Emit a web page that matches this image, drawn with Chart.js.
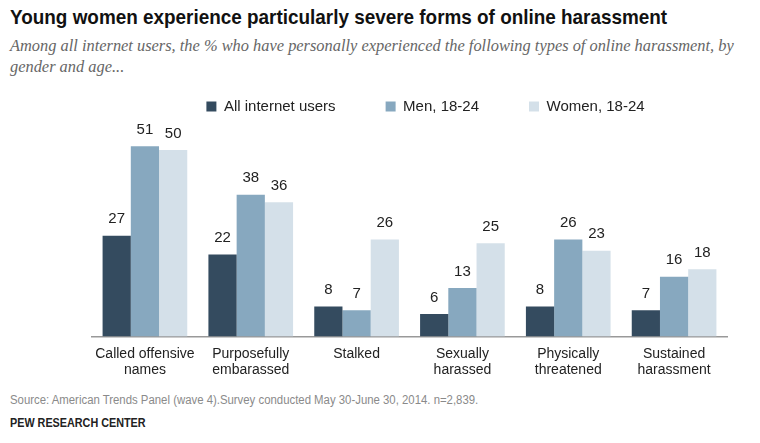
<!DOCTYPE html>
<html>
<head>
<meta charset="utf-8">
<script src="https://cdn.jsdelivr.net/npm/chart.js@4"></script>
<style>
    body { margin: 0; background: #fff; width: 760px; height: 443px; overflow: hidden; position: relative; }
    .title { position: absolute; left: 10px; top: 5px; font: bold 21px "Liberation Sans", sans-serif; color: #111; white-space: nowrap; transform: scaleX(0.9); transform-origin: left top; }
    .subtitle { position: absolute; left: 10px; top: 35px; font: italic 16.4px "Liberation Serif", serif; color: #666; line-height: 21px; white-space: nowrap; }
    .source { position: absolute; left: 10px; top: 393px; font: 12.5px "Liberation Sans", sans-serif; color: #8a8a8a; white-space: nowrap; transform: scaleX(0.91); transform-origin: left top; }
    .brand { position: absolute; left: 10px; top: 416px; font: bold 12px "Liberation Sans", sans-serif; color: #222; white-space: nowrap; transform: scaleX(0.9); transform-origin: left top; }
    #wrap { position: absolute; left: 0; top: 39px; width: 760px; height: 349px; }
</style>
</head>
<body>
<div class="title">Young women experience particularly severe forms of online harassment</div>
<div class="subtitle">Among all internet users, the % who have personally experienced the following types of online harassment, by<br>gender and age...</div>
<div id="wrap"><canvas id="harassChart"></canvas></div>
<div class="source">Source: American Trends Panel (wave 4).Survey conducted May 30-June 30, 2014. n=2,839.</div>
<div class="brand">PEW RESEARCH CENTER</div>

<script>
const categories = [
    ["Called offensive", "names"],
    ["Purposefully", "embarassed"],
    ["Stalked"],
    ["Sexually", "harassed"],
    ["Physically", "threatened"],
    ["Sustained", "harassment"]
];
const seriesNames = ["All internet users", "Men, 18-24", "Women, 18-24"];
const allUsers = [27, 22, 8, 6, 8, 7];
const men1824 = [51, 38, 7, 13, 26, 16];
const women1824 = [50, 36, 26, 25, 23, 18];
const colors = ["#344b5f", "#87a8bf", "#d4e0e9"];

// numbers above each bar
const barLabels = {
    id: "barLabels",
    afterDatasetsDraw(chart) {
        const ctx = chart.ctx;
        ctx.save();
        ctx.font = "15px 'Liberation Sans', sans-serif";
        ctx.fillStyle = "#222";
        ctx.textAlign = "center";
        ctx.textBaseline = "bottom";
        chart.data.datasets.forEach((ds, i) => {
            chart.getDatasetMeta(i).data.forEach((bar, j) => {
                ctx.fillText(ds.data[j], bar.x, bar.y - 9);
            });
        });
        ctx.restore();
    }
};

// legend sits a bit right of the plot centre in the original
const legendShift = {
    id: "legendShift",
    afterLayout(chart) {
        if (chart.legend) {
            chart.legend.left += 16;
            chart.legend.right += 16;
        }
    }
};

const ctx = document.getElementById("harassChart");
new Chart(ctx, {
    type: "bar",
    data: {
        labels: categories,
        datasets: [allUsers, men1824, women1824].map((d, i) => ({
            label: seriesNames[i],
            data: d,
            backgroundColor: colors[i],
            borderWidth: 0,
            categoryPercentage: 0.8,
            barPercentage: 1
        }))
    },
    options: {
        responsive: true,
        maintainAspectRatio: false,
        animation: false,
        layout: { padding: { left: 92, right: 33, top: 10, bottom: 0 } },
        scales: {
            y: {
                display: false,
                beginAtZero: true,
                max: 57
            },
            x: {
                grid: { display: false, drawTicks: false },
                border: { display: true, color: "#999", width: 1.5 },
                ticks: {
                    color: "#222",
                    padding: 9,
                    font: { family: "'Liberation Sans', sans-serif", size: 14 }
                }
            }
        },
        plugins: {
            legend: {
                display: true,
                position: "top",
                labels: {
                    boxWidth: 10,
                    boxHeight: 10,
                    padding: 50,
                    color: "#222",
                    font: { family: "'Liberation Sans', sans-serif", size: 15 }
                }
            },
            tooltip: { enabled: false },
            title: { display: false }
        }
    },
    plugins: [barLabels, legendShift]
});
</script>
</body>
</html>
